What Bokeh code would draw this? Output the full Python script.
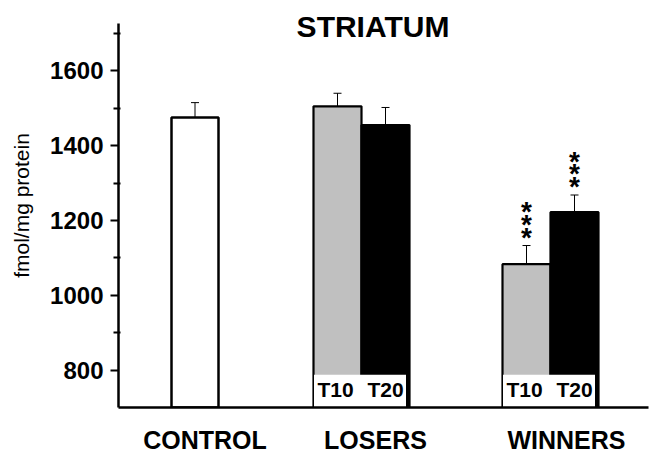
from bokeh.plotting import figure
from bokeh.models import Range1d, FixedTicker, Label
from bokeh.core.properties import value
from bokeh.embed import file_html
from bokeh.resources import INLINE

# ---- data ----
groups = ["CONTROL", "LOSERS", "WINNERS"]
control_mean = [1475]
control_sem = [40]
treated_groups = ["LOSERS", "WINNERS"]
t10_mean = [1505, 1083]
t10_sem = [35, 50]
t20_mean = [1455, 1222]
t20_sem = [47, 46]
t10_sig = ["", "***"]
t20_sig = ["", "***"]
y_ticks = [800, 1000, 1200, 1400, 1600]
y_minor = [900, 1100, 1300, 1500, 1700]
title_text = "STRIATUM"
y_label = "fmol/mg protein"
tag_labels = ["T10", "T20"]

# ---- layout (x units = screen pixels inside the frame) ----
FONT = "Liberation Sans"
Y0, Y1 = 700, 1727                      # visible axis extent
W, H = 649, 456
BL, BR, BT, BB = 118, 1, 3, 45
PPU = 388 / (Y1 - Y0)                   # pixels per y unit
Y_TOP = Y0 + (H - BT - BB) / PPU        # frame top (room for title)
group_center = {"CONTROL": 76.5, "LOSERS": 243.0, "WINNERS": 432.0}
label_shift = {"CONTROL": 10, "LOSERS": 14, "WINNERS": 16}
BAR_W = 48

p = figure(width=W, height=H, output_backend="svg", toolbar_location=None,
           x_range=Range1d(0, W - BL - BR), y_range=Range1d(Y0, Y_TOP),
           min_border_left=BL, min_border_right=BR, min_border_top=BT,
           min_border_bottom=BB)
p.outline_line_color = None
p.xgrid.grid_line_color = None
p.ygrid.grid_line_color = None
p.background_fill_color = "white"

# bars
cx = [group_center[g] for g in ["CONTROL"]]
p.vbar(x=cx, top=control_mean, bottom=Y0, width=BAR_W - 1, fill_color="white",
       line_color="black", line_width=2.5)
x10 = [group_center[g] - BAR_W / 2 for g in treated_groups]
x20 = [group_center[g] + BAR_W / 2 for g in treated_groups]
p.vbar(x=x10, top=t10_mean, bottom=Y0, width=BAR_W, fill_color="#c0c0c0",
       line_color="black", line_width=2.2)
p.vbar(x=x20, top=t20_mean, bottom=Y0, width=BAR_W, fill_color="black",
       line_color="black", line_width=2.2)

# error bars (upper only)
xs = cx + x10 + x20
tops = control_mean + t10_mean + t20_mean
errs = control_sem + t10_sem + t20_sem
ends = [t + e for t, e in zip(tops, errs)]
p.segment(x0=xs, y0=tops, x1=xs, y1=ends, line_color="black", line_width=1)
p.segment(x0=[x - 4 for x in xs], y0=ends, x1=[x + 4 for x in xs], y1=ends,
          line_color="black", line_width=1)

# significance stars
sig_x = x10 + x20
sig_y = [t + e for t, e in zip(t10_mean, t10_sem)] + [t + e for t, e in zip(t20_mean, t20_sem)]
sig_t = [s.replace("*", "*\n").strip() for s in t10_sig + t20_sig]
p.text(x=sig_x, y=sig_y, text=sig_t, text_align="center", text_baseline="bottom",
       text_font=value(FONT), text_font_style="bold", text_font_size="28px",
       text_line_height=0.41, y_offset=7, text_color="black")

# T10 / T20 tags on white boxes
box_c = [group_center[g] - 1.5 for g in treated_groups]
p.quad(left=[c - 46 for c in box_c], right=[c + 46 for c in box_c],
       bottom=Y0, top=Y0 + 33 / PPU, fill_color="white", line_color=None)
tag_x = [x - 2 for x in x10] + [x for x in x20]
tag_t = [tag_labels[0]] * len(x10) + [tag_labels[1]] * len(x20)
p.text(x=tag_x, y=Y0 + 18 / PPU, text=tag_t, text_align="center",
       text_baseline="middle", text_font=value(FONT), text_font_style="bold",
       text_font_size="21px", text_color="black")

# title
p.add_layout(Label(x=254.5, y=Y_TOP - (26 - BT) / PPU, text=title_text,
                   text_align="center", text_baseline="middle",
                   text_font=FONT, text_font_style="bold", text_font_size="30px",
                   text_color="black"))

# axes
p.yaxis.ticker = FixedTicker(ticks=y_ticks, minor_ticks=y_minor)
p.yaxis.bounds = (Y0, Y1)
p.yaxis.axis_line_width = 2.5
p.yaxis.major_tick_line_width = 2
p.yaxis.minor_tick_line_width = 2
p.yaxis.major_tick_out = 8
p.yaxis.major_tick_in = 0
p.yaxis.minor_tick_out = 5
p.yaxis.minor_tick_in = 2
p.yaxis.major_label_text_font = FONT
p.yaxis.major_label_text_font_style = "bold"
p.yaxis.major_label_text_font_size = "24px"
p.yaxis.major_label_text_color = "black"
p.yaxis.major_label_standoff = 7
p.yaxis.axis_label = y_label
p.yaxis.axis_label_text_font = FONT
p.yaxis.axis_label_text_font_style = "normal"
p.yaxis.axis_label_text_font_size = "21px"
p.yaxis.axis_label_text_color = "black"
p.yaxis.axis_label_standoff = 14

lab_pos = [group_center[g] + label_shift[g] for g in groups]
p.xaxis.ticker = FixedTicker(ticks=lab_pos)
p.xaxis.major_label_overrides = {pos: g for pos, g in zip(lab_pos, groups)}
p.xaxis.axis_line_width = 2.5
p.xaxis.major_tick_line_color = None
p.xaxis.minor_tick_line_color = None
p.xaxis.major_label_text_font = FONT
p.xaxis.major_label_text_font_style = "bold"
p.xaxis.major_label_text_font_size = "25px"
p.xaxis.major_label_text_color = "black"
p.xaxis.major_label_standoff = 12

open("out.html", "w").write(file_html(p, INLINE))
